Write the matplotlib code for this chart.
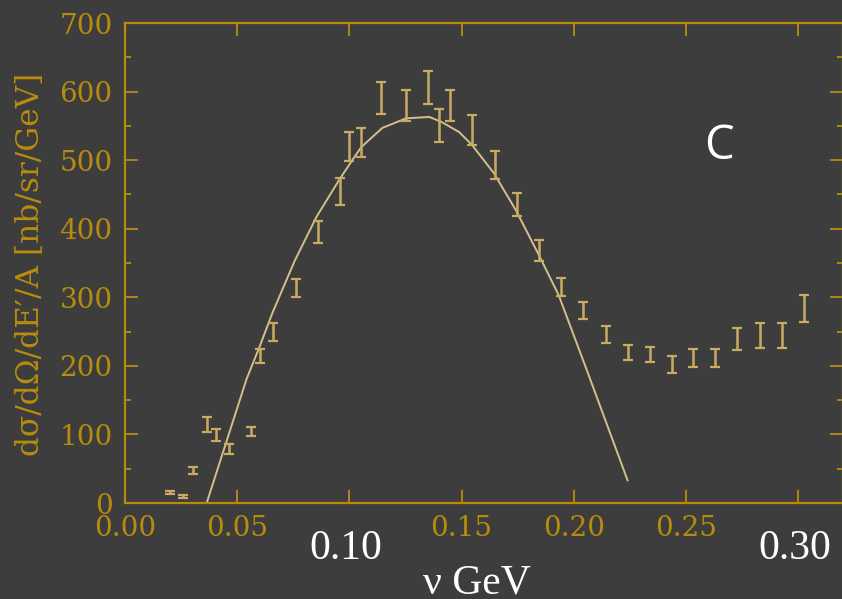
import matplotlib
matplotlib.use('Agg')
import matplotlib.pyplot as plt
from matplotlib.ticker import MultipleLocator

# measured points: energy transfer nu [GeV], cross section and error
nu = [0.0200, 0.0258, 0.0302, 0.0364, 0.0404, 0.0462, 0.0560, 0.0600, 0.0658,
      0.0760, 0.0858, 0.0956, 0.1000, 0.1053, 0.1142, 0.1253, 0.1351, 0.1400,
      0.1449, 0.1547, 0.1649, 0.1747, 0.1844, 0.1942, 0.2040, 0.2142, 0.2240,
      0.2338, 0.2436, 0.2533, 0.2631, 0.2729, 0.2831, 0.2929, 0.3027]
xsec = [15, 9, 47, 114, 99, 79, 104, 214, 249,
        313, 395, 454, 520, 526, 591, 580, 606, 551,
        580, 544, 493, 435, 368, 315, 281, 246, 220,
        216, 202, 211, 211, 239, 244, 244, 284]
xsec_err = [2, 2, 5, 11, 9, 7, 7, 10, 13,
            13, 16, 20, 21, 21, 23, 23, 24, 24,
            23, 22, 20, 17, 15, 13, 12, 12, 11,
            11, 12, 13, 13, 16, 18, 18, 20]

# quasi-elastic model curve
curve_nu = [0.0364, 0.0542, 0.0600, 0.0658, 0.0756, 0.0853, 0.0956, 0.1013,
            0.1053, 0.1147, 0.1253, 0.1356, 0.1409, 0.1489, 0.1547, 0.1644,
            0.1742, 0.1844, 0.1933, 0.2058, 0.2240]
curve_xsec = [0, 181, 228, 278, 353, 417, 472, 500,
              519, 547, 561, 563, 556, 541, 522, 481,
              427, 362, 303, 194, 33]

x_ticks = [0.00, 0.05, 0.10, 0.15, 0.20, 0.25, 0.30]
x_tick_labels = ['0.00', '0.05', '', '0.15', '0.20', '0.25', '']
big_labels = ['0.10', '0.30']

bg = '#3d3d3d'
gold = '#b78c0e'
pts = '#c9ab62'
line = '#d3c08e'


def plot_spectrum():
    fig = plt.figure(figsize=(8.42, 5.99), dpi=100, facecolor=bg)
    ax = fig.add_axes([125 / 842, 96 / 599, 718 / 842, 480 / 599])
    ax.set_facecolor(bg)

    ax.plot(curve_nu, curve_xsec, color=line, lw=1.4, zorder=2)
    ax.errorbar(nu, xsec, yerr=xsec_err, fmt='none', ecolor=pts,
                elinewidth=1.8, capsize=3.5, capthick=1.6, zorder=3)

    ax.set_xlim(0, 0.32)
    ax.set_ylim(0, 700)
    ax.set_xticks(x_ticks)
    ax.set_xticklabels(x_tick_labels)
    ax.yaxis.set_major_locator(MultipleLocator(100))
    ax.yaxis.set_minor_locator(MultipleLocator(50))

    for s in ax.spines.values():
        s.set_color(gold)
        s.set_linewidth(1.6)
    ax.tick_params(which='both', direction='in', top=True, right=True,
                   color=gold, labelcolor=gold, width=1.3)
    ax.tick_params(which='major', length=9.5, labelsize=20)
    ax.tick_params(which='minor', length=4)
    ax.tick_params(axis='x', pad=9)
    ax.tick_params(axis='y', pad=9)
    for lab in ax.get_xticklabels() + ax.get_yticklabels():
        lab.set_family('DejaVu Serif')

    fig.text(31 / 842, 1 - 264 / 599, 'd\u03c3/d\u03a9/dE\u2032/A [nb/sr/GeV]',
             rotation=90, ha='center', va='center', color=gold,
             family='DejaVu Serif', fontsize=22.5)

    fig.text(346 / 842, 1 - 549 / 599, big_labels[0], ha='center', va='center',
             color='white', family='Liberation Serif', fontsize=30)
    fig.text(795 / 842, 1 - 549 / 599, big_labels[1], ha='center', va='center',
             color='white', family='Liberation Serif', fontsize=30)
    fig.text(477 / 842, 6 / 599, '\u03bd GeV', ha='center', va='baseline',
             color='white', family='Liberation Serif', fontsize=30)
    fig.text(719 / 842, 1 - 146 / 599, 'C', ha='center', va='center',
             color='white', family='Open Sans', fontsize=34)

    fig.savefig('out.png', dpi=100, facecolor=bg)


if __name__ == '__main__':
    plot_spectrum()
